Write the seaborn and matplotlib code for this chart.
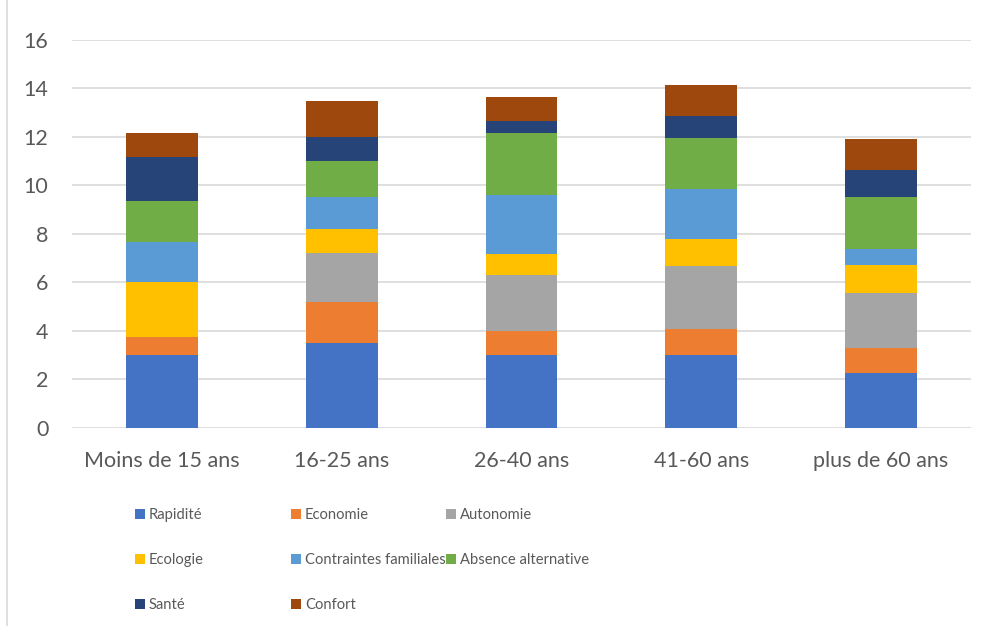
import numpy as np
import pandas as pd
import seaborn as sns
import matplotlib.pyplot as plt
from matplotlib.patches import Patch
from matplotlib.lines import Line2D

sns.set_style("white")
plt.rcParams['font.family'] = ['Lato', 'DejaVu Sans']

# Données
groupes = ["Moins de 15 ans", "16-25 ans", "26-40 ans", "41-60 ans", "plus de 60 ans"]
motifs = ["Rapidité", "Economie", "Autonomie", "Ecologie", "Contraintes familiales",
          "Absence alternative", "Santé", "Confort"]
rapidite = [3.0, 3.5, 3.0, 3.0, 2.25]
economie = [0.75, 1.7, 1.0, 1.05, 1.05]
autonomie = [0.0, 2.0, 2.3, 2.6, 2.25]
ecologie = [2.25, 1.0, 0.85, 1.15, 1.15]
contraintes = [1.65, 1.3, 2.45, 2.05, 0.65]
absence = [1.7, 1.5, 2.55, 2.1, 2.15]
sante = [1.8, 1.0, 0.5, 0.9, 1.15]
confort = [1.0, 1.5, 1.0, 1.3, 1.25]

couleurs = ["#4472C4", "#ED7D31", "#A5A5A5", "#FFC000", "#5B9BD5",
            "#70AD47", "#264478", "#9E480E"]

df = pd.DataFrame(
    [rapidite, economie, autonomie, ecologie, contraintes, absence, sante, confort],
    index=motifs, columns=groupes)
cumul = df.cumsum()

fig = plt.figure(figsize=(9.87, 6.26), dpi=100)
ax = fig.add_axes([72 / 987, 1 - 427.5 / 626, 899 / 987, 387.5 / 626])

# barres empilées : on dessine les cumuls du haut vers le bas
for motif, couleur in reversed(list(zip(motifs, couleurs))):
    sns.barplot(x=groupes, y=cumul.loc[motif].values, color=couleur, width=0.4,
                saturation=1, linewidth=0, ax=ax)

ax.set_ylim(0, 16)
ax.set_yticks(range(0, 17, 2))
ax.set_axisbelow(True)
ax.yaxis.grid(True, color="#D9D9D9", linewidth=1.2)
for s in ax.spines.values():
    s.set_visible(False)
ax.tick_params(axis="both", length=0, labelcolor="#595959", labelsize=15.5)
ax.tick_params(axis="y", pad=17)
ax.tick_params(axis="x", pad=17)
ax.set_xlabel("")
ax.set_ylabel("")

# légende sur 3 colonnes à largeur égale
colonnes = [[0, 3, 6], [1, 4, 7], [2, 5]]
x_cols = [135, 291, 446]
for xc, idx in zip(x_cols, colonnes):
    handles = [Patch(facecolor=couleurs[i], edgecolor="none") for i in idx]
    labels = [motifs[i] for i in idx]
    fig.legend(handles, labels, loc="upper left", bbox_to_anchor=(xc / 987, 1 - 508 / 626),
               frameon=False, fontsize=10.6, labelcolor="#595959", handlelength=0.65,
               handleheight=0.65, handletextpad=0.3, labelspacing=2.1, borderpad=0,
               borderaxespad=0)

fig.add_artist(Line2D([7 / 987, 7 / 987], [0, 1], color="#D9D9D9", linewidth=1.2))

fig.savefig("out.png", dpi=100)
